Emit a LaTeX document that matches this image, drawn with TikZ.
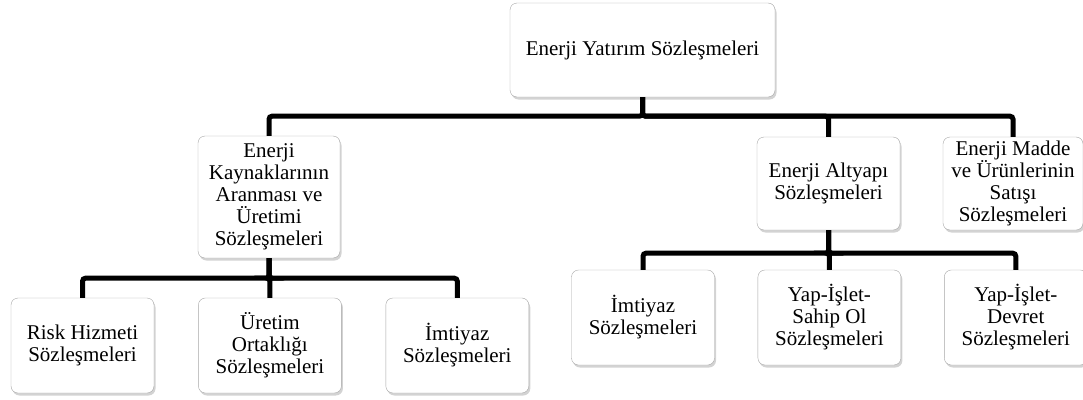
\documentclass[tikz,border=0pt]{standalone}
\usepackage{fontspec}
\setmainfont{Liberation Serif}
\usetikzlibrary{positioning,shadows}

\begin{document}
\begin{tikzpicture}[x=1pt,y=-1pt,
  box/.style={draw=gray!70,rounded corners=7pt,fill=white,align=center,
    font=\fontsize{21}{22}\selectfont,inner sep=1pt,
    minimum width=143pt,minimum height=95pt,
    drop shadow={opacity=0.35,shadow xshift=1.5pt,shadow yshift=-2.5pt}},
  link/.style={line width=5pt,rounded corners=3pt},
  node distance=44pt]

\useasboundingbox (0,0) rectangle (1083,399);

% top level
\node[box,minimum width=265pt,minimum height=94pt] (top) at (642.5,50) {Enerji Yatırım Sözleşmeleri};

% second level
\node[box,minimum width=142pt,minimum height=122pt] (kaynak) at (269,197) {Enerji\\Kaynaklarının\\Aranması ve\\Üretimi\\Sözleşmeleri};
\node[box,minimum height=93pt] (altyapi) at (828.5,183.5) {Enerji Altyapı\\Sözleşmeleri};
\node[box,minimum width=140pt,minimum height=93pt] (madde) at (1013,183.5) {Enerji Madde\\ve Ürünlerinin\\Satışı\\Sözleşmeleri};

% under kaynak
\node[box] (risk) at (82.5,345.5) {Risk Hizmeti\\Sözleşmeleri};
\node[box] (uretim) [right=of risk] {Üretim\\Ortaklığı\\Sözleşmeleri};
\node[box] (imtiyazA) [right=of uretim] {İmtiyaz\\Sözleşmeleri};

% under altyapi
\node[box] (imtiyazB) at (643,317.5) {İmtiyaz\\Sözleşmeleri};
\node[box] (yis) [right=43pt of imtiyazB] {Yap-İşlet-\\Sahip Ol\\Sözleşmeleri};
\node[box] (yid) [right=43pt of yis] {Yap-İşlet-\\Devret\\Sözleşmeleri};

\draw[link] (top.south) -- ++(0,19) -| (kaynak.north);
\draw[link] (top.south) -- ++(0,19) -| (altyapi.north);
\draw[link] (top.south) -- ++(0,19) -| (madde.north);

\draw[link] (kaynak.south) -- ++(0,20) -| (risk.north);
\draw[link] (kaynak.south) -- ++(0,20) -| (uretim.north);
\draw[link] (kaynak.south) -- ++(0,20) -| (imtiyazA.north);

\draw[link] (altyapi.south) -- ++(0,23) -| (imtiyazB.north);
\draw[link] (altyapi.south) -- ++(0,23) -| (yis.north);
\draw[link] (altyapi.south) -- ++(0,23) -| (yid.north);

\end{tikzpicture}
\end{document}
